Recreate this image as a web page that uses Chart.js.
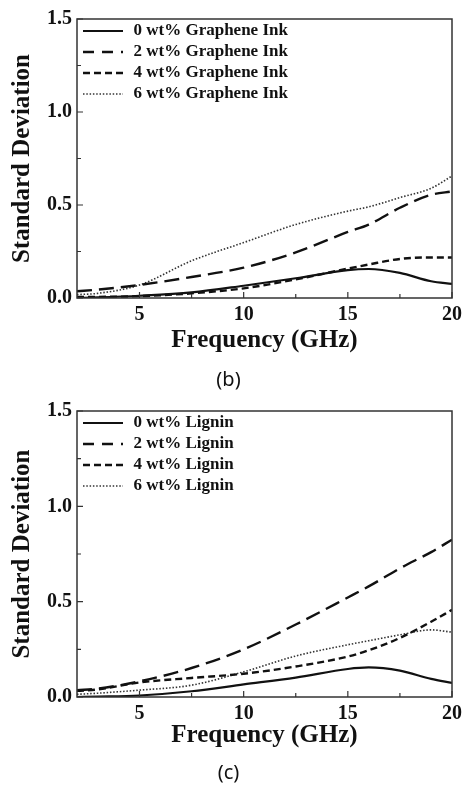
<!DOCTYPE html>
<html>
<head>
<meta charset="utf-8">
<script src="https://cdn.jsdelivr.net/npm/chart.js@4.4.1/dist/chart.umd.min.js"></script>
<style>
  body { margin: 0; background: #fff; }
  canvas { display: block; }
</style>
</head>
<body>
<canvas id="chartB" width="467" height="392"></canvas>
<canvas id="chartC" width="467" height="393"></canvas>
<script>
// frequency samples (GHz)
const freq = [2, 3, 5, 7.5, 10, 12.5, 15, 16, 17.5, 19, 20]

// (b) graphene ink
const graphene0 = [0.0, 0.003, 0.012, 0.03, 0.066, 0.106, 0.15, 0.156, 0.135, 0.09, 0.076]
const graphene2 = [0.036, 0.045, 0.07, 0.113, 0.163, 0.245, 0.355, 0.395, 0.485, 0.555, 0.573]
const graphene4 = [0.005, 0.006, 0.01, 0.025, 0.052, 0.1, 0.158, 0.18, 0.21, 0.218, 0.218]
const graphene6 = [0.018, 0.025, 0.07, 0.2, 0.298, 0.395, 0.467, 0.49, 0.54, 0.59, 0.656]

// (c) lignin
const lignin0 = [0.0, 0.002, 0.008, 0.03, 0.066, 0.102, 0.147, 0.155, 0.138, 0.095, 0.074]
const lignin2 = [0.036, 0.044, 0.082, 0.152, 0.25, 0.38, 0.522, 0.58, 0.675, 0.76, 0.825]
const lignin4 = [0.032, 0.04, 0.076, 0.1, 0.122, 0.16, 0.212, 0.245, 0.31, 0.395, 0.457]
const lignin6 = [0.014, 0.02, 0.036, 0.062, 0.132, 0.215, 0.274, 0.295, 0.326, 0.352, 0.34]

const xTicks = [5, 10, 15, 20]
const xMinor = [7.5, 12.5, 17.5]
const yTicks = [0, 0.5, 1.0, 1.5]
const yMinor = [0.25, 0.75, 1.25]

const serif = "'Liberation Serif', 'Times New Roman', serif"
const ink = '#111'

const styles = [
    {borderDash: [], borderWidth: 2.2, color: '#111'},
    {borderDash: [15, 7], borderWidth: 2.4, color: '#111'},
    {borderDash: [7, 4], borderWidth: 2.4, color: '#111'},
    {borderDash: [1.5, 1.8], borderWidth: 1.6, color: '#333'}
]

// little line sample used as legend symbol
function sample(st) {
    const c = document.createElement('canvas')
    c.width = 40
    c.height = 4
    const g = c.getContext('2d')
    g.strokeStyle = st.color
    g.lineWidth = st.borderWidth
    g.setLineDash(st.borderDash.length ? (st.borderDash[0] > 10 ? [11, 8] : st.borderDash) : [])
    g.beginPath()
    g.moveTo(0, 2)
    g.lineTo(40, 2)
    g.stroke()
    return c
}

// frame on all four sides + inward ticks
const frameTicks = {
    id: 'frameTicks',
    afterDraw(chart) {
        const {ctx, chartArea: a, scales} = chart
        ctx.save()
        ctx.strokeStyle = '#333'
        ctx.lineWidth = 1.5
        ctx.strokeRect(a.left, a.top, a.right - a.left, a.bottom - a.top)
        ctx.lineWidth = 1.2
        ctx.beginPath()
        xTicks.concat(xMinor).forEach((v, i) => {
            const px = scales.x.getPixelForValue(v)
            const len = i < xTicks.length ? 6 : 4
            ctx.moveTo(px, a.bottom)
            ctx.lineTo(px, a.bottom - len)
        })
        yTicks.concat(yMinor).forEach((v, i) => {
            const py = scales.y.getPixelForValue(v)
            const len = i < yTicks.length ? 6 : 4
            ctx.moveTo(a.left, py)
            ctx.lineTo(a.left + len, py)
        })
        ctx.stroke()
        ctx.restore()
    }
}

function makeChart(id, labels, series, caption, axisH, capPad) {
    const ctl = document.getElementById(id)
    return new Chart(ctl, {
        type: 'line',
        data: {
            datasets: series.map((vals, i) => ({
                label: labels[i],
                data: freq.map((f, j) => ({x: f, y: vals[j]})),
                borderColor: styles[i].color,
                backgroundColor: styles[i].color,
                borderWidth: styles[i].borderWidth,
                borderDash: styles[i].borderDash,
                pointRadius: 0,
                cubicInterpolationMode: 'monotone',
                fill: false
            }))
        },
        options: {
            responsive: false,
            devicePixelRatio: 1,
            animation: false,
            layout: {padding: {left: 0, top: 19, right: 10, bottom: 0}},
            scales: {
                x: {
                    type: 'linear',
                    min: 2,
                    max: 20,
                    afterBuildTicks: s => { s.ticks = xTicks.map(v => ({value: v})) },
                    afterFit: s => { s.height = axisH },
                    grid: {display: false, drawTicks: false},
                    border: {display: false},
                    ticks: {
                        padding: 5,
                        color: ink,
                        font: {family: serif, size: 20, weight: 'bold'},
                        maxRotation: 0
                    },
                    title: {
                        display: true,
                        text: 'Frequency (GHz)',
                        color: ink,
                        font: {family: serif, size: 25, weight: 'bold'},
                        padding: {top: 0, bottom: 4}
                    }
                },
                y: {
                    min: 0,
                    max: 1.5,
                    afterBuildTicks: s => { s.ticks = yTicks.map(v => ({value: v})) },
                    afterFit: s => { s.width = 77 },
                    grid: {display: false, drawTicks: false},
                    border: {display: false},
                    ticks: {
                        padding: 5,
                        color: ink,
                        font: {family: serif, size: 20, weight: 'bold'},
                        callback: v => v.toFixed(1)
                    },
                    title: {
                        display: true,
                        text: 'Standard Deviation',
                        color: ink,
                        font: {family: serif, size: 25, weight: 'bold'},
                        padding: {top: 8, bottom: 0}
                    }
                }
            },
            plugins: {
                legend: {
                    position: 'chartArea',
                    align: 'start',
                    title: {display: true, text: '', font: {size: 10, lineHeight: 1}, padding: {top: 8.5, bottom: 0}},
                    labels: {
                        usePointStyle: true,
                        pointStyleWidth: 44,
                        padding: 4,
                        color: ink,
                        font: {family: serif, size: 17, weight: 'bold'},
                        generateLabels: chart => Chart.defaults.plugins.legend.labels.generateLabels(chart)
                            .map((item, i) => Object.assign(item, {pointStyle: sample(styles[i])}))
                    }
                },
                title: {
                    display: true,
                    position: 'bottom',
                    text: caption,
                    color: ink,
                    font: {family: "'Noto Sans', sans-serif", size: 20, weight: 'normal'},
                    padding: {top: capPad, bottom: 0}
                },
                tooltip: {enabled: false}
            }
        },
        plugins: [frameTicks]
    })
}

makeChart('chartB',
    ['0 wt% Graphene Ink', '2 wt% Graphene Ink', '4 wt% Graphene Ink', '6 wt% Graphene Ink'],
    [graphene0, graphene2, graphene4, graphene6], '(b)', 62, 8)

makeChart('chartC',
    ['0 wt% Lignin', '2 wt% Lignin', '4 wt% Lignin', '6 wt% Lignin'],
    [lignin0, lignin2, lignin4, lignin6], '(c)', 58, 6)
</script>
</body>
</html>
